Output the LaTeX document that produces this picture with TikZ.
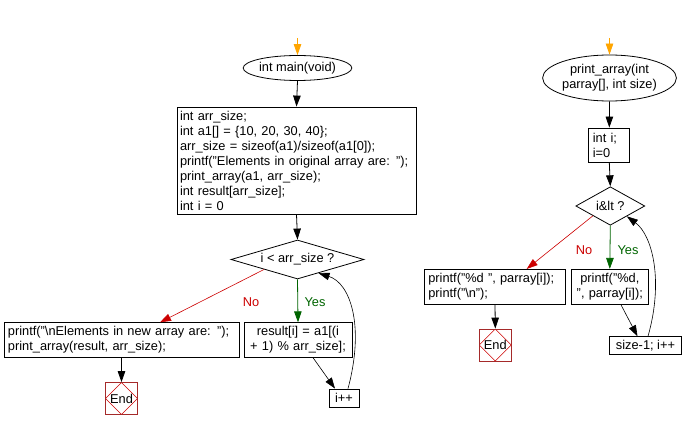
\documentclass[tikz,border=0pt]{standalone}
\usepackage{fontspec}
\setmainfont{Liberation Sans}
\usetikzlibrary{shapes.geometric,arrows.meta}
\definecolor{endred}{HTML}{A52A2A}
\definecolor{nored}{HTML}{CC0000}
\definecolor{yesgreen}{HTML}{006400}
\definecolor{startor}{HTML}{FFA500}
\begin{document}
\begin{tikzpicture}[x=1pt,y=-1pt,line width=0.8pt,
  every node/.style={font=\fontsize{12.8}{15}\selectfont},
  blk/.style={draw, rectangle, inner xsep=4pt, inner ysep=0pt},
  term/.style={draw, ellipse, inner sep=0pt, align=center},
  cond/.style={draw, diamond, inner sep=0pt, aspect=3},
  endbox/.style={draw=endred, rectangle, minimum width=32pt, minimum height=32pt, inner sep=0pt,
    path picture={\draw[nored, line width=0.6pt] (path picture bounding box.north) -- (path picture bounding box.east) -- (path picture bounding box.south) -- (path picture bounding box.west) -- cycle;}},
  arr/.style={-{Triangle[length=11pt,width=7.5pt]}},
  startarr/.style={startor, -{Triangle[length=11pt,width=7.5pt]}},
  nolab/.style={text=nored},
  yeslab/.style={text=yesgreen}]
\useasboundingbox (0,0) rectangle (684,430);

% ---- left flow ----
\coordinate (startL) at (297.5,38);
\node[term, minimum width=91pt, minimum height=25pt] (mainE) at (297.5,68) {int main(void)};
\node[blk, minimum width=239pt, minimum height=107pt, text width=233pt, inner xsep=3pt, align=left] (initB) at (296.5,160.5)
 {int arr\_size;\\int a1[] = \{10, 20, 30, 40\};\\arr\_size = sizeof(a1)/sizeof(a1[0]);\\printf("Elements in original array are: ");\\print\_array(a1, arr\_size);\\int result[arr\_size];\\int i = 0};
\node[cond, minimum width=133pt, minimum height=39pt] (condL) at (297.5,259.5) {i < arr\_size ?};
\node[blk, minimum width=235pt, minimum height=34.5pt, text width=227pt, align=left] (noBL) at (121.5,340)
 {printf("\textbackslash nElements in new array are: ");\\print\_array(result, arr\_size);};
\node[endbox] (endL) at (121.5,398.5) {End};
\node[blk, minimum width=108pt, minimum height=34.5pt, text width=100pt, align=center] (yesBL) at (298,340)
 {result[i] = a1[(i\\+ 1) \% arr\_size];};
\node[blk, minimum width=30pt, minimum height=18pt, inner xsep=0pt] (incL) at (344,398) {i++};

\draw[startarr] (startL) -- (mainE.north);
\draw[arr] (mainE.south) -- (initB.north);
\draw[arr] (initB.south) -- (condL.north);
\draw[arr, nored, line width=0.6pt] (condL.south west) -- ([xshift=38.5pt]noBL.north);
\node[nolab] (noL) at (251,301.7) {No};
\draw[arr, yesgreen] (condL.south) -- (yesBL.north);
\node[yeslab] (yesL) at (315,301.7) {Yes};
\draw[arr] (noBL.south) -- (endL.north);
\draw[arr, line width=0.6pt] ([xshift=15pt]yesBL.south) -- ([xshift=-9pt]incL.north);
\draw[arr, line width=0.6pt] ([xshift=4pt]incL.north) .. controls (365,325) and (350,283) .. (condL.-33);

% ---- right flow ----
\coordinate (startR) at (609.5,38);
\node[term, minimum width=121pt, minimum height=46pt] (printE) at (609.5,78) {print\_array(int\\parray[], int size)};
\node[blk, minimum width=41pt, minimum height=34pt, text width=33pt, align=left] (initR) at (609.3,145) {int i;\\i=0};
\node[cond, minimum width=69pt, minimum height=38.5pt, aspect=2] (condR) at (610.3,206) {i\&lt ?};
\node[blk, minimum width=141.4pt, minimum height=34.7pt, text width=133.4pt, align=left] (noBR) at (495,286.7)
 {printf("\%d ", parray[i]);\\printf("\textbackslash n");};
\node[endbox] (endR) at (495.3,345) {End};
\node[blk, minimum width=77pt, minimum height=34.7pt, text width=69pt, align=center] (yesBR) at (609.8,286.7)
 {printf("\%d,\\", parray[i]);};
\node[blk, minimum width=72.4pt, minimum height=17.6pt, inner xsep=0pt] (sizeB) at (645.5,345.5) {size-1; i++};

\draw[startarr] (startR) -- (printE.north);
\draw[arr] (printE.south) -- (initR.north);
\draw[arr] (initR.south) -- (condR.north);
\draw[arr, nored, line width=0.6pt] (condR.south west) -- ([xshift=31.7pt]noBR.north);
\node[nolab] (noR) at (584,250) {No};
\draw[arr, yesgreen] (condR.south) -- (yesBR.north);
\node[yeslab] (yesR) at (628,250) {Yes};
\draw[arr] (noBR.south) -- (endR.north);
\draw[arr, line width=0.6pt] ([xshift=11pt]yesBR.south) -- ([xshift=-8pt]sizeB.north);
\draw[arr, line width=0.6pt] ([xshift=2.5pt]sizeB.north) .. controls (664,280) and (652,235) .. (condR.-32);
\end{tikzpicture}
\end{document}
